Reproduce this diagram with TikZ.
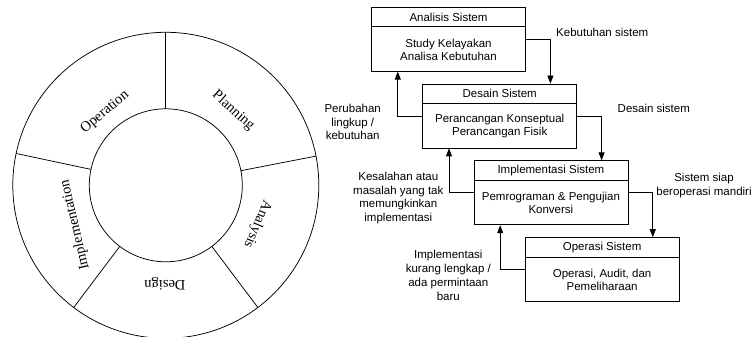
\documentclass[tikz,border=0pt]{standalone}
\usepackage{fontspec}
\setmainfont{Liberation Serif}
\newfontfamily\boxfont{Liberation Sans}
\usetikzlibrary{arrows.meta}
\begin{document}
\begin{tikzpicture}[x=1pt,y=1pt,
  ring/.style={line width=0.75pt},
  phase/.style={font=\fontsize{14.5}{16}\selectfont, inner sep=0pt},
  frame/.style={draw, line width=0.8pt, minimum width=154pt, minimum height=64pt, inner sep=0pt},
  head/.style={draw, line width=0.8pt, minimum width=154pt, minimum height=19.5pt,
    inner sep=0pt, anchor=north, font=\boxfont\fontsize{11.5}{13}\selectfont},
  body/.style={minimum width=154pt, minimum height=44.5pt, inner sep=0pt, anchor=north,
    align=center, font=\boxfont\fontsize{11.5}{13}\selectfont},
  note/.style={align=center, inner sep=0pt, font=\boxfont\fontsize{11.5}{13.8}\selectfont},
  flow/.style={line width=0.8pt, -{Triangle[length=8pt,width=6pt]}}
]
\useasboundingbox (0,0) rectangle (755,337);

% SDLC wheel
\begin{scope}[shift={(165.8,151.7)}]
  \draw[ring] (0,0) circle[radius=153];
  \draw[ring] (0,0) circle[radius=76.5];
  \foreach \a in {90,11,-53,-127,168}
    \draw[ring] (\a:76.5) -- (\a:153);
  \node[phase, rotate=39.8]  (pOp)   at (129.8:95)  {Operation};
  \node[phase, rotate=-42.1] (pPl)   at (47.9:100.6) {Planning};
  \node[phase, rotate=-113]  (pAn)   at (-23:99.5)  {Analysis};
  \node[phase, rotate=180]   (pDe)   at (-90.5:98.7) {Design};
  \node[phase, rotate=103]   (pIm)   at (-156.4:99) {Implementation};
\end{scope}

% Waterfall stages
\node[frame] (s1) at (448.5,297.8) {};
\node[head] (s1h) at (s1.north) {Analisis Sistem};
\node[body] (s1b) at (s1h.south) {Study Kelayakan\\Analisa Kebutuhan};

\node[frame] (s2) at (499.7,221.0) {};
\node[head] (s2h) at (s2.north) {Desain Sistem};
\node[body] (s2b) at (s2h.south) {Perancangan Konseptual\\Perancangan Fisik};

\node[frame] (s3) at (550.9,144.2) {};
\node[head] (s3h) at (s3.north) {Implementasi Sistem};
\node[body] (s3b) at (s3h.south) {Pemrograman \& Pengujian\\Konversi};

\node[frame] (s4) at (602.1,67.4) {};
\node[head] (s4h) at (s4.north) {Operasi Sistem};
\node[body] (s4b) at (s4h.south) {Operasi, Audit, dan\\Pemeliharaan};

% forward flow
\draw[flow] (s1.east) -| ([xshift=-26.7pt]s2.north east);
\draw[flow] (s2.east) -| ([xshift=-26.7pt]s3.north east);
\draw[flow] (s3.east) -| ([xshift=-26.7pt]s4.north east);

% feedback flow
\draw[flow] (s2.west) -| ([xshift=26.7pt]s1.south west);
\draw[flow] (s3.west) -| ([xshift=26.7pt]s2.south west);
\draw[flow] (s4.west) -| ([xshift=26.7pt]s3.south west);

% flow labels
\node[note, anchor=west] (l1) at (556,304.7) {Kebutuhan sistem};
\node[note, anchor=west] (l2) at (617.5,228.7) {Desain sistem};
\node[note] (l3) at (704,151.3) {Sistem siap\\beroperasi mandiri};
\node[note] (l4) at (352.7,215) {Perubahan\\lingkup /\\kebutuhan};
\node[note] (l5) at (398.3,139) {Kesalahan atau\\masalah yang tak\\memungkinkan\\implementasi};
\node[note] (l6) at (448.3,61.8) {Implementasi\\kurang lengkap /\\ada permintaan\\baru};
\end{tikzpicture}
\end{document}
